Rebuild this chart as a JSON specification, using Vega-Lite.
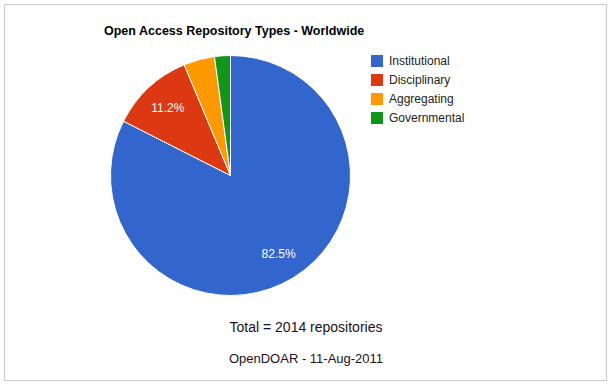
{
  "$schema": "https://vega.github.io/schema/vega-lite/v6.json",
  "width": 612,
  "height": 384,
  "autosize": {"type": "fit", "contains": "padding"},
  "padding": {"left": 4, "top": 4, "right": 6, "bottom": 4},
  "background": "white",
  "config": {
    "view": {"stroke": "#c8c8c8", "strokeWidth": 1},
    "font": "Liberation Sans"
  },
  "layer": [
    {
      "data": {
        "values": [
          {"type": "Institutional", "count": 1661, "order": 1, "label": "82.5%"},
          {"type": "Disciplinary", "count": 226, "order": 2, "label": "11.2%"},
          {"type": "Aggregating", "count": 84, "order": 3, "label": ""},
          {"type": "Governmental", "count": 43, "order": 4, "label": ""}
        ]
      },
      "layer": [
        {
          "mark": {"type": "arc", "outerRadius": 120, "stroke": "white", "strokeWidth": 1},
          "encoding": {
            "x": {"value": 226.5},
            "y": {"value": 171.5},
            "theta": {"field": "count", "type": "quantitative", "stack": true},
            "order": {"field": "order", "type": "quantitative"},
            "color": {
              "field": "type",
              "type": "nominal",
              "scale": {
                "domain": ["Institutional", "Disciplinary", "Aggregating", "Governmental"],
                "range": ["#3366CC", "#DC3912", "#FF9900", "#109618"]
              },
              "legend": {
                "title": null,
                "orient": "none",
                "legendX": 367,
                "legendY": 51,
                "symbolType": "square",
                "symbolSize": 144,
                "symbolStrokeWidth": 0,
                "symbolOpacity": 1,
                "labelFont": "Liberation Sans",
                "labelFontSize": 12,
                "labelColor": "#222222",
                "labelOffset": 6,
                "rowPadding": 7
              }
            }
          }
        },
        {
          "mark": {"type": "text", "radius": 92, "font": "Liberation Sans", "fontSize": 12, "color": "white", "baseline": "middle", "align": "center"},
          "encoding": {
            "x": {"value": 226.5},
            "y": {"value": 171.5},
            "theta": {"field": "count", "type": "quantitative", "stack": true},
            "order": {"field": "order", "type": "quantitative"},
            "text": {"field": "label", "type": "nominal"}
          }
        }
      ]
    },
    {
      "data": {"values": [{"t": "Open Access Repository Types - Worldwide"}]},
      "mark": {"type": "text", "font": "Liberation Sans", "fontWeight": "bold", "fontSize": 12.5, "color": "#000000", "align": "left", "baseline": "alphabetic"},
      "encoding": {"x": {"value": 100}, "y": {"value": 31}, "text": {"field": "t", "type": "nominal"}}
    },
    {
      "data": {"values": [{"t": "Total = 2014 repositories"}]},
      "mark": {"type": "text", "font": "Liberation Sans", "fontSize": 14, "color": "#1a1020", "align": "center", "baseline": "alphabetic"},
      "encoding": {"x": {"value": 302}, "y": {"value": 328}, "text": {"field": "t", "type": "nominal"}}
    },
    {
      "data": {"values": [{"t": "OpenDOAR - 11-Aug-2011"}]},
      "mark": {"type": "text", "font": "Liberation Sans", "fontSize": 13, "color": "#1a1020", "align": "center", "baseline": "alphabetic"},
      "encoding": {"x": {"value": 302}, "y": {"value": 359}, "text": {"field": "t", "type": "nominal"}}
    }
  ]
}
